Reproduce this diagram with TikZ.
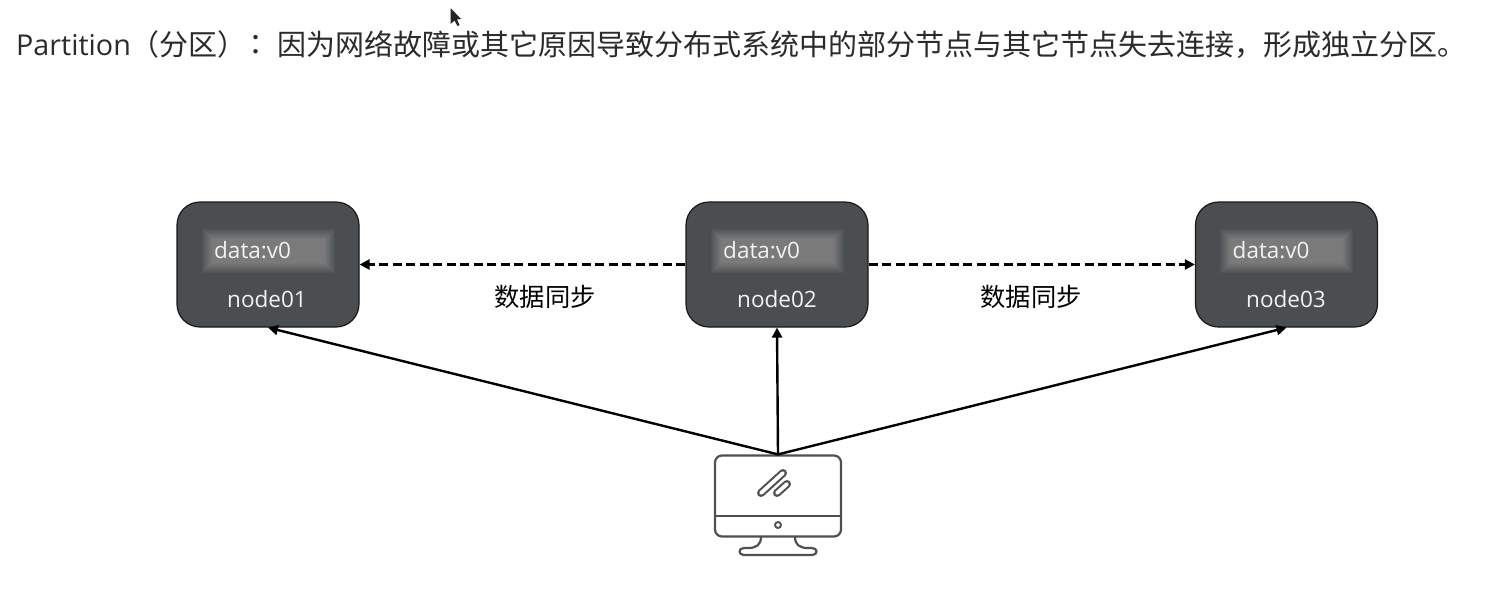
\documentclass[tikz,border=0pt]{standalone}
\usepackage{fontspec}
\setmainfont{Open Sans}
\newfontfamily\cjk{Noto Sans CJK SC}
\newfontfamily\cjktc{Noto Sans CJK TC}
\usetikzlibrary{arrows.meta,calc}
\definecolor{boxfill}{HTML}{4A4E50}
\definecolor{inkc}{HTML}{2B2B2B}
\definecolor{pcline}{HTML}{505050}
\definecolor{panelhi}{HTML}{7A7A7A}
\definecolor{panello}{HTML}{505456}
\tikzset{
  x=1pt,y=-1pt,
  server/.style={draw=black!90,line width=1.2pt,fill=boxfill,rounded corners=23pt,minimum width=182pt,minimum height=125pt,inner sep=0pt},
  whitetext/.style={text=white!95!black,font=\fontsize{22.5}{25}\selectfont,inner sep=0pt},
  synclabel/.style={text=black,font=\cjk\fontsize{25.3}{28}\selectfont,inner sep=0pt},
  syncline/.style={draw=black,line width=2.6pt,dash pattern=on 9pt off 4.5pt,-{Triangle[length=10pt,width=10pt]}},
  accessline/.style={draw=black,line width=2.4pt,-{Triangle[length=10pt,width=10pt]}},
  pcstroke/.style={draw=pcline,line width=2.2pt,line cap=round,line join=round},
}
\newcommand{\datapanel}[2]{%
  \foreach \st [evaluate=\st as \pct using \st*10, evaluate=\st as \ins using \st*1.0] in {0,...,10}{
    \fill[panelhi!\pct!panello]
      ($(#1.center)+(-66.5+\ins,-36+\ins)$) rectangle ($(#1.center)+(66.5-\ins,8-\ins)$);
  }
  \node[whitetext,anchor=base west] (#2) at ($(#1.center)+(-54,-6)$) {data:v0};
}
\begin{document}
\begin{tikzpicture}
\useasboundingbox (0,0) rectangle (1504,606);
\fill[white] (0,0) rectangle (1504,606);

\node[anchor=base west,inner sep=0pt,text=inkc,font=\fontsize{28.7}{32}\selectfont] (title) at (16,55)
  {Partition\fontsize{29}{32}\selectfont{\cjk （分区）}\hspace{-5pt}{\cjktc ：}\hspace{7pt}{\cjk 因为网络故障或其它原因导致分布式系统中的部分节点与其它节点失去连接，形成独立分区。}};

% mouse pointer
\fill[black!85] (450.5,8) -- (450.5,24) -- (454.5,20.5) -- (457.5,26) -- (459.5,25) -- (457,19.5) -- (461,19) -- cycle;

\node[server] (n1) at (268,264.5) {};
\node[server] (n2) at (777,264.5) {};
\node[server] (n3) at (1286.5,264.5) {};
\datapanel{n1}{d1}
\datapanel{n2}{d2}
\datapanel{n3}{d3}
\node[whitetext,anchor=base] (l1) at ($(n1.center)+(-1,43)$) {node01};
\node[whitetext,anchor=base] (l2) at ($(n2.center)+(0,43)$) {node02};
\node[whitetext,anchor=base] (l3) at ($(n3.center)+(-0.5,43)$) {node03};

\draw[syncline] (n2.west) -- (n1.east);
\draw[syncline] (n2.east) -- (n3.west);
\node[synclabel] (s1) at (545,297) {数据同步};
\node[synclabel] (s2) at (1031,297) {数据同步};

% monitor
\node[pcstroke,rounded corners=7pt,minimum width=126pt,minimum height=81pt,inner sep=0pt] (pc) at (778,496) {};
\draw[pcstroke,line cap=butt] (pc.west |- 0,516) -- (pc.east |- 0,516);
\draw[pcstroke,line width=1.9pt] (778,525) circle (3pt);
\draw[pcstroke] (761,537) .. controls (761,545) and (756,548) .. (748,548) -- (744,548)
  .. controls (738,548) and (738,555) .. (744,555) -- (812,555)
  .. controls (818,555) and (818,548) .. (812,548) -- (808,548)
  .. controls (800,548) and (795,545) .. (795,537);
\draw[draw=pcline,line width=8pt,line cap=round] (761,493) -- (783,473);
\draw[draw=white,line width=3.8pt,line cap=round] (761,493) -- (783,473);
\draw[draw=pcline,line width=8pt,line cap=round] (777,493) -- (787,484);
\draw[draw=white,line width=3.8pt,line cap=round] (777,493) -- (787,484);

\draw[accessline] (pc.north) -- (n1.south);
\draw[accessline] (pc.north) -- (n2.south);
\draw[accessline] (pc.north) -- (n3.south);
\end{tikzpicture}
\end{document}
